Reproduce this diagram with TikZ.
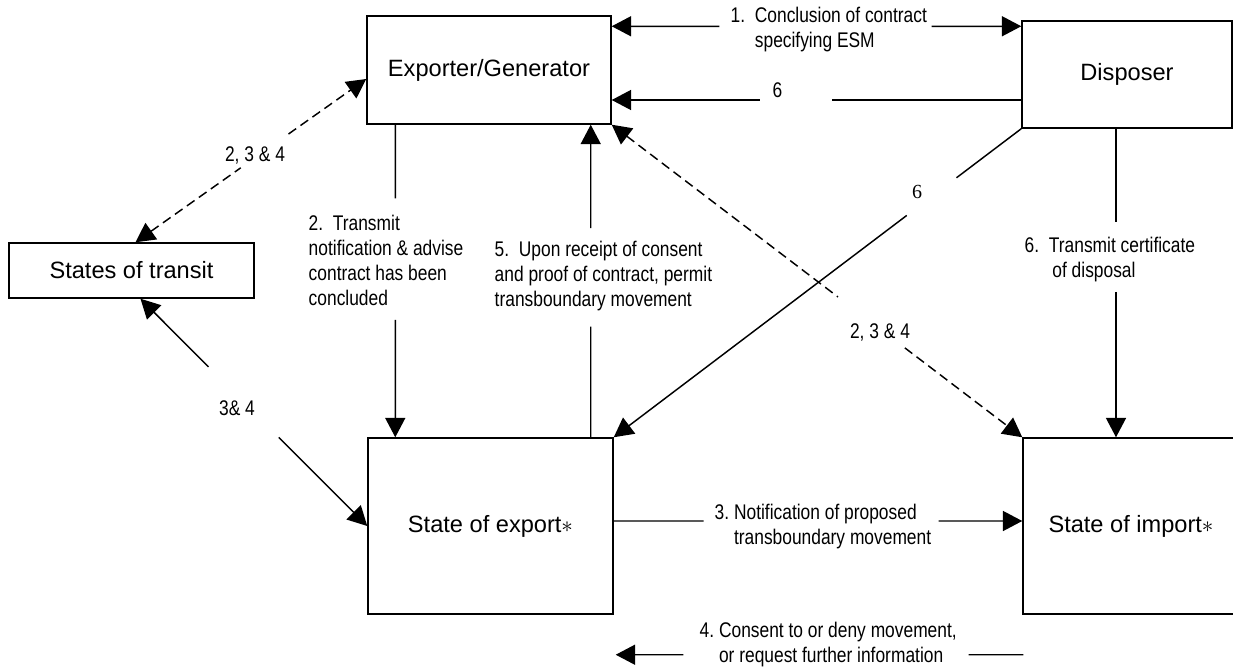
\documentclass[tikz,border=0pt]{standalone}
\usepackage{fontspec}
\setmainfont{Liberation Sans}
\newfontfamily\narrowfont[FakeStretch=0.82]{Liberation Sans}
\newfontfamily\timesfont{Liberation Serif}
\usepackage{tikz}
\usetikzlibrary{arrows.meta,positioning,calc}

\begin{document}
\begin{tikzpicture}[x=0.75pt,y=-0.75pt,>={Triangle[length=14.5pt,width=15pt]},line width=1.1pt,
	state node/.style={rectangle,draw,inner sep=0pt,font=\fontsize{17.7}{21}\selectfont},
	note/.style={inner sep=0pt,anchor=west,align=left,font=\narrowfont\fontsize{15.9}{18.75}\selectfont},
	dash line/.style={dash pattern=on 7pt off 4pt}]

    \useasboundingbox (0,0) rectangle (1233,671);

    \node[state node,minimum width=183pt,minimum height=81pt] (G) at (489,70) {Exporter/Generator};
    \node[state node,minimum width=157.5pt,minimum height=80.25pt] (D) at (1127,74.5) {Disposer};
    \node[state node,minimum width=183.75pt,minimum height=41.25pt] (T) at (131.5,270.5) {States of transit};
    \node[state node,minimum width=183.75pt,minimum height=132pt] (X) at (490.5,526) {State of export$\ast$};
    \node[state node,minimum width=162pt,minimum height=132pt] (M) at (1131,526) {State of import$\ast$};

    \coordinate (g1) at ($(G.north east)+(0,11)$);
    \coordinate (d1) at ($(D.north west)+(0,6)$);
    \coordinate (g6) at ($(G.east)+(0,30)$);
    \coordinate (d6) at ($(D.west)+(0,25.5)$);
    \coordinate (g2) at ($(G.south west)+(29,0)$);
    \coordinate (x2) at ($(X.north west)+(28,0)$);
    \coordinate (g5) at ($(G.south east)+(-21,0)$);
    \coordinate (x5) at ($(X.north east)+(-23,0)$);
    \coordinate (t2) at ($(T.north)+(4,0)$);
    \coordinate (g3) at ($(G.west)+(0,9)$);
    \coordinate (t3) at ($(T.south)+(9,0)$);
    \coordinate (d7) at ($(D.south)+(-11,0)$);
    \coordinate (m7) at ($(M.north)+(-15,0)$);
    \coordinate (x3) at ($(X.east)+(0,-5)$);
    \coordinate (m3) at ($(M.west)+(0,-5)$);
    \coordinate (m4) at ($(M.south west)+(1,40)$);
    \coordinate (x4) at ($(X.south east)+(2,40)$);

    \draw[<-] (g1) -- ($(g1)!.263!(d1)$);
    \draw[->] ($(g1)!.781!(d1)$) -- (d1);
    \draw[<-] (g6) -- ($(g6)!.363!(d6)$);
    \draw ($(g6)!.538!(d6)$) -- (d6);
    \draw (D.south west) -- ($(D.south west)!.159!(X.north east)$);
    \draw[->] ($(D.south west)!.281!(X.north east)$) -- (X.north east);
    \draw (g2) -- ($(g2)!.236!(x2)$);
    \draw[->] ($(g2)!.624!(x2)$) -- (x2);
    \draw (x5) -- ($(x5)!.354!(g5)$);
    \draw[->] ($(x5)!.669!(g5)$) -- (g5);
    \draw[dash line,<-] (t2) -- ($(t2)!.456!(g3)$);
    \draw[dash line,->] ($(t2)!.663!(g3)$) -- (g3);
    \draw[<-] (t3) -- ($(t3)!.30!(X.west)$);
    \draw[->] ($(t3)!.61!(X.west)$) -- (X.west);
    \draw[dash line,<-] (G.south east) -- ($(G.south east)!.551!(M.north west)$);
    \draw[dash line,->] ($(G.south east)!.714!(M.north west)$) -- (M.north west);
    \draw (d7) -- ($(d7)!.303!(m7)$);
    \draw[->] ($(d7)!.529!(m7)$) -- (m7);
    \draw (x3) -- ($(x3)!.22!(m3)$);
    \draw[->] ($(x3)!.795!(m3)$) -- (m3);
    \draw (m4) -- ($(m4)!.134!(x4)$);
    \draw[->] ($(m4)!.834!(x4)$) -- (x4);

    \node[note] (L1) at (730,30) {1.\ \ Conclusion of contract\\\hphantom{1.\ \ }specifying ESM};
    \node[note] (L6) at (772,90) {6};
    \node[note,anchor=center,font=\timesfont\fontsize{15}{18}\selectfont] (L6b) at (917,192) {6};
    \node[note] (L2) at (308,260) {2.\ \ Transmit\\notification \& advise\\contract has been\\concluded};
    \node[note] (L5) at (494,276) {5.\ \ Upon receipt of consent\\and proof of contract, permit\\transboundary movement};
    \node[note] (L6c) at (1024,260) {6.\ \ Transmit certificate\\\hphantom{6.\ \ \,}of disposal};
    \node[note] (L3) at (714,527) {3.\ Notification of proposed\\\hphantom{3.\ }transboundary movement};
    \node[note] (L4) at (699,645) {4.\ Consent to or deny movement,\\\hphantom{4.\ }or request further information};
    \node[note,anchor=center] (L234a) at (255,155) {2, 3 \& 4};
    \node[note,anchor=center] (L234b) at (880,332) {2, 3 \& 4};
    \node[note,anchor=center] (L34) at (237,408) {3\& 4};

\end{tikzpicture}
\end{document}
